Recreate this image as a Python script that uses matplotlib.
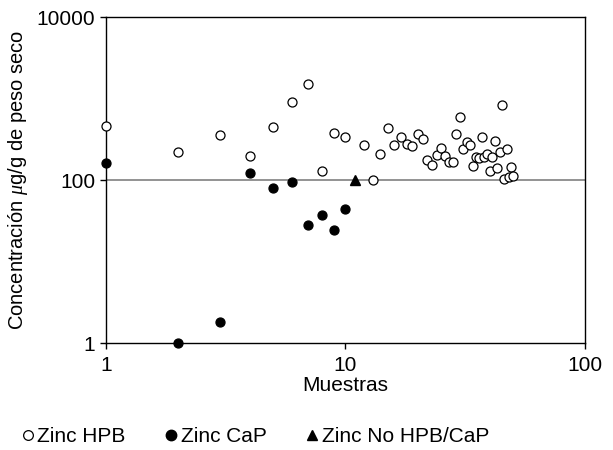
import matplotlib.pyplot as plt
from matplotlib.lines import Line2D

plt.rcParams['font.family'] = ['Liberation Sans', 'DejaVu Sans']
plt.rcParams['mathtext.fontset'] = 'custom'
plt.rcParams['mathtext.it'] = 'Liberation Serif:italic'

# Zinc HPB: samples 1-10 and 12-50
hpb_x = list(range(1, 11)) + list(range(12, 51))
hpb_y = [460, 222, 363, 200, 455, 914, 1518, 130, 380, 339,
         273, 101, 209, 442, 273, 339, 281, 261, 373, 318,
         178, 153, 203, 248, 196, 168, 168, 373, 589, 239,
         295, 273, 149, 191, 185, 339, 191, 209, 130, 194,
         303, 142, 222, 832, 104, 239, 109, 146, 114]

# Zinc CaP: samples 1-10
cap_x = list(range(1, 11))
cap_y = [163, 1, 1.81, 122, 80, 96, 28.4, 37, 24.5, 44]

# Zinc No HPB/CaP
no_x = [11]
no_y = [100]

limit = 100

fig = plt.figure(figsize=(6.13, 4.5), dpi=100)
ax = fig.add_axes([0.1725, 0.237, 0.782, 0.725])

ax.axhline(limit, color='#808080', lw=1.2, zorder=1)

ax.plot(hpb_x, hpb_y, 'o', ms=6.5, mfc='white', mec='black', mew=0.9,
        ls='none', clip_on=False, zorder=3)
ax.plot(cap_x, cap_y, 'o', ms=6.5, mfc='black', mec='black', mew=0.9,
        ls='none', clip_on=False, zorder=3)
ax.plot(no_x, no_y, '^', ms=7, mfc='black', mec='black',
        ls='none', clip_on=False, zorder=3)

ax.set_xscale('log')
ax.set_yscale('log')
ax.set_xlim(1, 100)
ax.set_ylim(1, 10000)
ax.set_xticks([1, 10, 100])
ax.set_xticklabels(['1', '10', '100'])
ax.set_yticks([1, 100, 10000])
ax.set_yticklabels(['1', '100', '10000'])
ax.minorticks_off()
ax.tick_params(axis='both', labelsize=15, length=4, width=1, color='black')
ax.tick_params(axis='x', pad=5)
for s in ax.spines.values():
    s.set_linewidth(1)
    s.set_color('black')

ax.set_xlabel('Muestras', fontsize=15, labelpad=1)
ax.set_ylabel('Concentración $\\mathit{\\mu}$g/g de peso seco', fontsize=14.5, labelpad=5)

handles = [
    Line2D([], [], marker='o', ls='none', ms=7, mfc='white', mec='black', mew=0.9),
    Line2D([], [], marker='o', ls='none', ms=7.5, mfc='black', mec='black'),
    Line2D([], [], marker='^', ls='none', ms=7.5, mfc='black', mec='black'),
]
fig.legend(handles, ['Zinc HPB', 'Zinc CaP', 'Zinc No HPB/CaP'],
           loc='center left', bbox_to_anchor=(0.018, 0.03), ncol=3,
           frameon=False, fontsize=15, handlelength=0.6,
           handletextpad=0.15, columnspacing=1.9, borderpad=0)

fig.savefig('out.png', dpi=100)
